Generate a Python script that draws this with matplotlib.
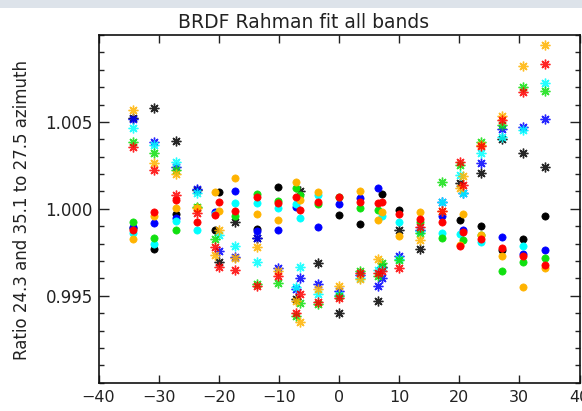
import numpy as np
import matplotlib
matplotlib.use("Agg")
import matplotlib.pyplot as plt
from matplotlib.patches import Rectangle

nan = np.nan

# viewing angle columns (degrees)
angles = [-34.3, -30.7, -27.1, -23.6, -20.7, -20.0, -17.3, -13.6, -10.1, -7.2, -6.5,
          -3.5, 0.0, 3.5, 6.5, 7.1, 10.0, 13.5, 17.2, 20.1, 20.6, 23.6, 27.1, 30.6, 34.2]

# fit ratios (circles)
circ_black = [0.9989, 0.99771, 0.99971, nan, 0.9988, 1.00095, nan, 0.99885, 1.00128, nan, nan,
              nan, 0.99962, 0.99914, nan, 1.00084, 0.99994, nan, nan, 0.99933, nan, 0.99899, 0.99765, 0.99826, 0.99956]
circ_blue = [0.99893, 0.99918, 0.9995, nan, 0.9998, nan, 1.00105, 0.99874, 0.99876, 1.00013, nan,
             0.99893, 1.00027, 1.00065, 1.00122, nan, nan, nan, 0.99956, nan, 0.9988, nan, 0.99838, 0.9974, 0.99765]
circ_cyan = [0.99861, 0.998, 0.99931, 0.9988, 0.9997, nan, 1.00033, 1.00033, 1.00004, 1.00027, 0.99947,
             1.0008, nan, nan, nan, 0.99956, 0.99922, nan, 0.99861, 0.99855, nan, 0.99807, nan, 0.99784, nan]
circ_green = [0.99922, 0.99832, 0.9988, 1.0001, nan, nan, 0.9996, 1.00084, 1.00048, 1.00122, 1.0008,
              1.0003, 1.0007, 1.00004, 0.99994, nan, nan, 0.99922, 0.99832, nan, 0.99818, 0.99847, 0.99641, 0.99695, 0.99718]
circ_orange = [0.99826, 0.9996, 1.00004, 1.00004, 1.00099, 0.99988, 1.00179, 0.9997, 0.99937, 1.00156, 1.00052,
               1.00099, nan, 1.00105, 0.99937, 0.99981, 0.99845, 0.99981, nan, 0.99794, 0.9997, 0.99847, 0.99727, 0.99549, 0.9966]
circ_red = [0.9988, 0.99981, 1.00052, 0.99927, 0.99966, 1.00038, 0.99989, 1.0007, 1.00033, 1.0007, 0.99994,
            1.00042, 1.0007, 1.00038, 1.00033, 1.00042, 0.99971, 0.99941, 0.99922, 0.99784, 0.99864, 0.99826, 0.99775, 0.99727, 0.99679]

# ratios (asterisks)
ast_black = [1.00525, 1.00582, 1.00391, 1.0011, nan, 0.99692, 0.99927, 0.99832, nan, 0.9948, 1.00105,
             0.99689, 0.99403, nan, 0.99469, 0.99666, 0.9988, 0.99769, nan, 1.00147, nan, 1.00208, 1.004, 1.00322, 1.00242]
ast_blue = [1.00519, 1.00386, 1.00242, 1.00113, nan, 0.99757, 0.99723, 0.9983, 0.9966, 0.9954, 0.99603,
            0.99569, 0.99526, 0.9962, 0.99555, 0.99603, 0.99731, 0.9988, 1.00042, nan, 1.0009, 1.00262, 1.00462, 1.00471, 1.00519]
ast_cyan = [1.00466, 1.00367, 1.00271, 1.00094, nan, 0.99847, 0.99784, 0.99692, nan, 0.9955, 0.99666,
            0.99511, 0.99507, 0.996, 0.99647, 0.9966, 0.9971, 0.9987, 1.0004, 1.00195, 1.0009, 1.00319, 1.00411, 1.00452, 1.00723]
ast_green = [1.00385, 1.00323, 1.00223, 1.0001, 0.99826, nan, nan, 0.9957, 0.99575, 0.99383, 0.99456,
             0.9945, 0.99497, 0.9964, 0.99616, 0.99689, 0.99708, 0.99861, 1.00156, 1.00252, nan, 1.00386, 1.00485, 1.007, 1.00676]
ast_orange = [1.00567, 1.00262, 1.002, 1.00004, 0.99737, 0.9988, 0.99718, 0.9978, 0.9964, 0.99469, 0.99349,
              0.9954, 0.99555, 0.99597, 0.99712, nan, nan, 0.9982, 0.9999, 1.00118, 1.0019, 1.0037, 1.00533, 1.00819, 1.00945]
ast_red = [1.00357, 1.00223, 1.0008, 0.99975, 0.9978, 0.99666, 0.99651, 0.99555, 0.99615, 0.99403, 0.99513,
           0.99463, 0.99489, 0.99632, 0.9963, 0.99641, 0.9966, 0.99895, 0.99985, 1.00271, 1.00137, 1.00361, 1.0051, 1.00672, 1.00834]

title = "BRDF Rahman fit all bands"
ylabel = "Ratio 24.3 and 35.1 to 27.5 azimuth"
xticks = [-40, -30, -20, -10, 0, 10, 20, 30, 40]
yticks = [0.995, 1.000, 1.005]
ytick_labels = ["0.995", "1.000", "1.005"]

series = [
    ("#000000", circ_black, ast_black),
    ("#0000FF", circ_blue, ast_blue),
    ("#00FFFF", circ_cyan, ast_cyan),
    ("#10E010", circ_green, ast_green),
    ("#FFB300", circ_orange, ast_orange),
    ("#FF0000", circ_red, ast_red),
]

W, H = 582, 411
fig = plt.figure(figsize=(W / 100, H / 100), dpi=100)
fig.patches.append(Rectangle((0, 1 - 8 / H), 1, 8 / H, transform=fig.transFigure,
                             facecolor="#dde3ea", edgecolor="none", zorder=0))

ax = fig.add_axes([98.5 / W, (H - 382.7) / H, (579.5 - 98.5) / W, (382.7 - 35) / H])
x = np.array(angles)
for color, circ, ast in series:
    ax.plot(x, circ, linestyle="none", marker="o", markersize=5.2,
            markerfacecolor=color, markeredgecolor=color, markeredgewidth=0.5)
    ax.plot(x, ast, linestyle="none", marker=(8, 2, 0), markersize=7,
            markeredgecolor=color, markeredgewidth=1.0, alpha=0.85)

ax.set_xlim(-40, 40)
ax.set_ylim(0.990, 1.010)
ax.set_xticks(xticks)
ax.set_xticklabels([("\u2212%d" % -t) if t < 0 else str(t) for t in xticks])
ax.set_yticks(yticks)
ax.set_yticklabels(ytick_labels)
ax.set_yticks(np.arange(0.990, 1.0101, 0.001), minor=True)
ax.tick_params(axis="both", which="major", direction="in", top=True, right=True,
               labelsize=12, colors="#222222")
ax.tick_params(axis="x", which="major", length=6, width=1, pad=5.5, labelsize=11.5)
ax.tick_params(axis="y", which="major", length=7, width=1, pad=4)
ax.tick_params(axis="y", which="minor", direction="in", right=True, length=3.6, width=1, colors="#222222")
for s in ax.spines.values():
    s.set_linewidth(1.2)
    s.set_color("#111111")

fig.text(303.5 / W, 1 - 22 / H, title, ha="center", va="center", fontsize=13.5, color="#222222")
fig.text(22 / W, 1 - 210 / H, ylabel, ha="center", va="center", rotation=90, fontsize=12, color="#222222")

fig.savefig("out.png", dpi=100)
